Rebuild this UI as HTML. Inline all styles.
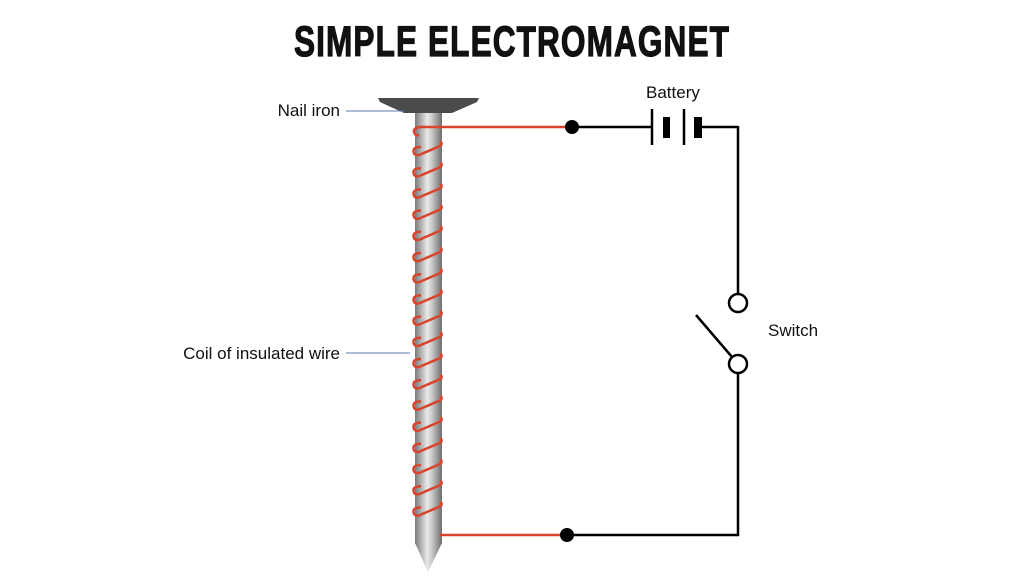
<!DOCTYPE html>
<html><head><meta charset="utf-8"><style>
body{margin:0;background:#fff;width:1024px;height:585px;overflow:hidden}
svg{display:block}
</style></head><body>
<svg width="1024" height="585" viewBox="0 0 1024 585" xmlns="http://www.w3.org/2000/svg">
<defs>
<linearGradient id="sh" x1="0" x2="1" y1="0" y2="0">
<stop offset="0" stop-color="#7a7a7a"/><stop offset="0.45" stop-color="#e8e8e8"/><stop offset="0.6" stop-color="#cfcfcf"/><stop offset="1" stop-color="#6e6e6e"/>
</linearGradient>
</defs>
<text x="512" y="56" text-anchor="middle" font-family="'Liberation Sans Narrow','Liberation Sans',sans-serif" font-weight="bold" font-size="43" letter-spacing="1.5" fill="#111" stroke="#111" stroke-width="1.2" textLength="436" lengthAdjust="spacingAndGlyphs">SIMPLE ELECTROMAGNET</text>
<rect x="415" y="110" width="27" height="434" fill="url(#sh)"/>
<polygon points="415,543 442,543 428,572" fill="url(#sh)"/>
<polygon points="378,98 479,98 477,102 452,113 404,113 380,102" fill="#4a4b4d"/>
<g fill="none" stroke="#d9442c" stroke-width="2.5" id="coils">
<path d="M420,127 q-7,1 -6,5 q1,4 5,3"/>
</g>
<g stroke="#d9442c" stroke-width="2.5">
<line x1="418" y1="127" x2="572" y2="127"/>
<line x1="440" y1="535" x2="567" y2="535"/>
</g>
<g stroke="#000" stroke-width="2.5" fill="none">
<line x1="572" y1="127" x2="652" y2="127"/>
<line x1="702" y1="127" x2="738" y2="127"/>
<line x1="738" y1="126" x2="738" y2="294"/>
<line x1="738" y1="373" x2="738" y2="536"/>
<line x1="567" y1="535" x2="739" y2="535"/>
<line x1="652" y1="109" x2="652" y2="145"/>
<line x1="684" y1="109" x2="684" y2="145"/>
<circle cx="738" cy="303" r="9"/>
<circle cx="738" cy="364" r="9"/>
<line x1="696" y1="315" x2="732" y2="357"/>
</g>
<rect x="663" y="117" width="7" height="21" fill="#000"/>
<rect x="694" y="117" width="8" height="21" fill="#000"/>
<circle cx="572" cy="127" r="7" fill="#000"/>
<circle cx="567" cy="535" r="7" fill="#000"/>
<g font-family="'Liberation Sans',sans-serif" font-size="17" fill="#111">
<text x="646" y="98">Battery</text>
<text x="768" y="336">Switch</text>
<text x="340" y="116" text-anchor="end">Nail iron</text>
<text x="340" y="359" text-anchor="end">Coil of insulated wire</text>
</g>
<g stroke="#5a79a8" stroke-width="1">
<line x1="346" y1="111" x2="404" y2="111"/>
<line x1="346" y1="353" x2="410" y2="353"/>
</g>
<script>
var g=document.getElementById('coils'),d='';
for(var y=156;y<=535;y+=21.2){d+='M421,'+(y-9)+' q-8,0 -7.5,4.5 q0.5,4.5 5.5,3.5 L440,'+(y-10)+' q3,-2 0.5,-4.5 ';}
var p=document.createElementNS('http://www.w3.org/2000/svg','path');p.setAttribute('d',d);g.appendChild(p);
</script>
</svg>
</body></html>
